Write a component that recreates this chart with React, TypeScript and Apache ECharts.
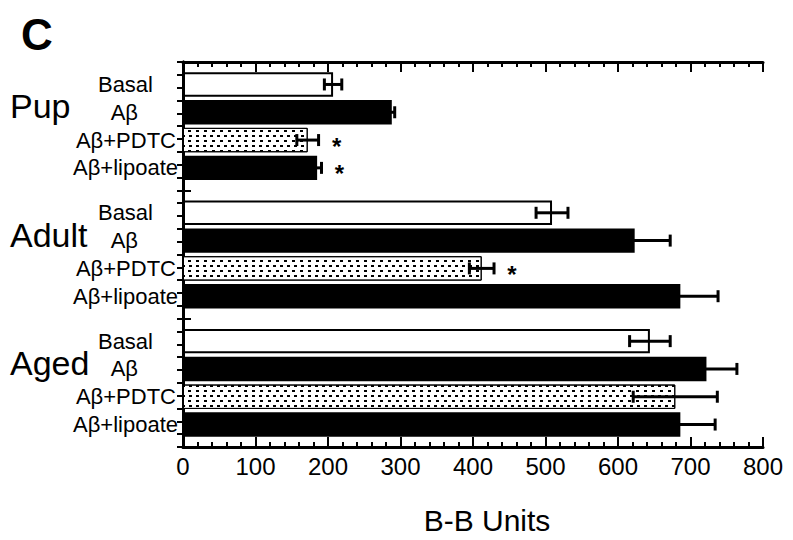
import React, { useEffect, useRef } from "react";
import * as echarts from "echarts";

// ---- data ----
const groups = ["Pup", "Adult", "Aged"];
const treatments = ["Basal", "Aβ", "Aβ+PDTC", "Aβ+lipoate"];
const basalMean = [207, 509, 644];
const basalErr = [12, 22, 28];
const abMean = [288, 623, 722];
const abErr = [4, 49, 42];
const pdtcMean = [172, 412, 679];
const pdtcErr = [15, 17, 58];
const lipoateMean = [185, 686, 686];
const lipoateErr = [6, 52, 48];
const basalSig = [false, false, false];
const abSig = [false, false, false];
const pdtcSig = [true, true, false];
const lipoateSig = [true, false, false];
const xMin = 0;
const xMax = 800;
const xStep = 100;
const xTitle = "B-B Units";
const panelLetter = "C";

const FONT = "'Liberation Sans', Arial, Helvetica, sans-serif";
const BAR_GAP = 0.14;
const CAT_GAP = 0.16;

export default function App() {
  const ref = useRef<HTMLDivElement>(null);
  useEffect(() => {
    if (!ref.current) return;
    const chart = echarts.init(ref.current, null, { renderer: "svg" });
    const means = [basalMean, abMean, pdtcMean, lipoateMean];
    const errs = [basalErr, abErr, pdtcErr, lipoateErr];
    const sigs = [basalSig, abSig, pdtcSig, lipoateSig];
    const labelDist = [30, 45, 7, 5];
    const itemStyles: any[] = [
      { color: "#fff", borderColor: "#000", borderWidth: 2 },
      { color: "#000" },
      {
        color: "#fff",
        borderColor: "#000",
        borderWidth: 1,
        decal: {
          symbol: "rect",
          symbolSize: 1,
          color: "#000",
          backgroundColor: "#fff",
          dashArrayX: [[3, 4], [0, 3.5, 3, 0.5]],
          dashArrayY: [2, 2.5],
          rotation: 0,
        },
      },
      { color: "#000" },
    ];

    const barSeries = treatments.map((t, i) => ({
      type: "bar",
      name: t,
      data: means[i],
      barGap: `${BAR_GAP * 100}%`,
      barCategoryGap: `${CAT_GAP * 100}%`,
      itemStyle: itemStyles[i],
      label: {
        show: true,
        position: "left",
        distance: labelDist[i],
        formatter: () => t,
        color: "#000",
        fontSize: 22,
        fontFamily: FONT,
      },
      z: 2,
    }));

    const errData: number[][] = [];
    treatments.forEach((_, i) => {
      groups.forEach((_, g) => {
        errData.push([means[i][g], g, errs[i][g], i, sigs[i][g] ? 1 : 0]);
      });
    });

    const errSeries = {
      type: "custom",
      data: errData,
      encode: { x: 0, y: 1 },
      z: 5,
      renderItem: (params: any, api: any) => {
        const v = api.value(0);
        const g = api.value(1);
        const e = api.value(2);
        const i = api.value(3);
        const sig = api.value(4);
        const n = treatments.length;
        const band = api.size([0, 1])[1];
        const bw = (band * (1 - CAT_GAP)) / (n + (n - 1) * BAR_GAP);
        const total = n * bw + (n - 1) * bw * BAR_GAP;
        const offset = -total / 2 + i * bw * (1 + BAR_GAP) + bw / 2;
        const c = api.coord([v, g]);
        const y = c[1] + offset;
        const x1 = api.coord([v - e, g])[0];
        const x2 = api.coord([v + e, g])[0];
        const cap = 6;
        const st = { stroke: "#000", lineWidth: 3 };
        const children: any[] = [
          { type: "line", shape: { x1, y1: y, x2, y2: y }, style: st },
          { type: "line", shape: { x1, y1: y - cap, x2: x1, y2: y + cap }, style: st },
          { type: "line", shape: { x1: x2, y1: y - cap, x2, y2: y + cap }, style: st },
        ];
        if (sig) {
          children.push({
            type: "text",
            style: {
              text: "*",
              x: x2 + 18,
              y: y + 6,
              fill: "#000",
              fontSize: 24,
              fontWeight: "bold",
              fontFamily: FONT,
              align: "center",
              verticalAlign: "middle",
            },
          });
        }
        return { type: "group", children };
      },
    };

    const axisLineStyle = { color: "#000", width: 3 };
    const tickStyle = { color: "#000", width: 2 };

    chart.setOption({
      animation: false,
      backgroundColor: "#fff",
      grid: { left: 183, right: 30, top: 62, bottom: 81 },
      graphic: [
        {
          type: "text",
          left: 21,
          top: 12,
          style: {
            text: panelLetter,
            fontSize: 44,
            fontWeight: "bold",
            fill: "#000",
            fontFamily: FONT,
          },
        },
      ],
      xAxis: [
        {
          type: "value",
          position: "bottom",
          min: xMin,
          max: xMax,
          interval: xStep,
          axisLine: { show: true, lineStyle: axisLineStyle },
          axisTick: { show: true, inside: true, length: 10, lineStyle: tickStyle },
          minorTick: { show: true, splitNumber: 5, length: 5, lineStyle: tickStyle },
          splitLine: { show: false },
          axisLabel: { color: "#000", fontSize: 24, margin: 7, fontFamily: FONT },
          name: xTitle,
          nameLocation: "middle",
          nameGap: 58,
          nameTextStyle: {
            color: "#000",
            fontSize: 30,
            fontFamily: FONT,
            padding: [0, 0, 0, 28],
          },
        },
        {
          type: "value",
          position: "top",
          min: xMin,
          max: xMax,
          interval: xStep,
          axisLine: { show: true, lineStyle: axisLineStyle },
          axisTick: { show: true, inside: true, length: 10, lineStyle: tickStyle },
          minorTick: { show: true, splitNumber: 5, length: 5, lineStyle: tickStyle },
          splitLine: { show: false },
          axisLabel: { show: false },
        },
      ],
      yAxis: [
        {
          type: "category",
          data: groups,
          inverse: true,
          axisLine: { show: true, lineStyle: axisLineStyle },
          axisTick: { show: true, inside: true, length: 8, lineStyle: tickStyle },
          splitLine: { show: false },
          axisLabel: {
            align: "left",
            margin: 173,
            formatter: (v: string) => `{g|${v}}`,
            rich: {
              g: {
                fontSize: 34,
                fontFamily: FONT,
                color: "#000",
                padding: [0, 0, 40, 0],
              },
            },
          },
        },
        {
          type: "value",
          position: "right",
          min: 0,
          max: 30,
          interval: 1,
          axisLine: { show: true, lineStyle: axisLineStyle },
          axisTick: { show: true, inside: true, length: 6, lineStyle: tickStyle },
          splitLine: { show: false },
          axisLabel: { show: false },
        },
      ],
      series: [...barSeries, errSeries],
    });
    return () => chart.dispose();
  }, []);
  return (
    <div
      ref={ref}
      style={{ position: "fixed", left: 0, top: 0, width: 793, height: 540, background: "#fff" }}
    />
  );
}
